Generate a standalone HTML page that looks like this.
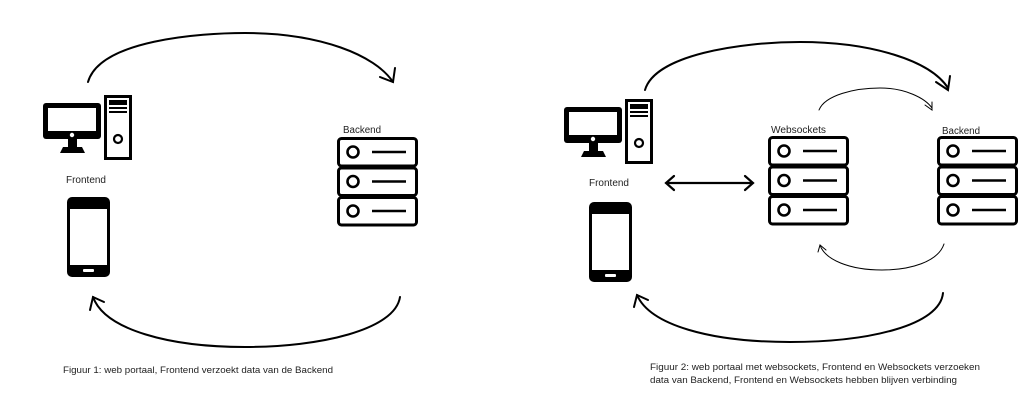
<!DOCTYPE html>
<html><head><meta charset="utf-8"><style>
html,body{margin:0;padding:0;background:#fff;}
svg{display:block;}
text{font-family:"Liberation Sans",Arial,sans-serif;fill:#222;}
</style></head><body>
<svg width="1024" height="417" viewBox="0 0 1024 417" xmlns="http://www.w3.org/2000/svg">
<defs>
<g id="pc">
  <rect x="0" y="8" width="58" height="36" rx="3" fill="#000"/>
  <rect x="5" y="13" width="48" height="23" fill="#fff"/>
  <circle cx="29" cy="40" r="2.2" fill="#fff"/>
  <rect x="25" y="44" width="9" height="9" fill="#000"/>
  <path d="M17 58 L20 52 L39 52 L42 58 Z" fill="#000"/>
  <rect x="62.5" y="1.5" width="25" height="62" fill="#fff" stroke="#000" stroke-width="3"/>
  <rect x="66" y="5" width="18" height="5" fill="#000"/>
  <rect x="66" y="12" width="18" height="2" fill="#000"/>
  <rect x="66" y="16" width="18" height="2" fill="#000"/>
  <circle cx="75" cy="44" r="4" fill="none" stroke="#000" stroke-width="2.2"/>
</g>
<g id="phone">
  <rect x="0" y="0" width="43" height="80" rx="5" fill="#000"/>
  <rect x="3" y="12" width="37" height="56" fill="#fff"/>
  <rect x="16" y="72" width="11" height="3" rx="1" fill="#fff"/>
</g>
<g id="srvrow">
  <rect x="1.5" y="1.5" width="78" height="27.5" rx="3" fill="#fff" stroke="#000" stroke-width="3"/>
  <circle cx="16" cy="15" r="5.5" fill="none" stroke="#000" stroke-width="2.6"/>
  <line x1="35" y1="15" x2="69" y2="15" stroke="#000" stroke-width="2.6"/>
</g>
<g id="server">
  <use href="#srvrow" x="0" y="0"/>
  <use href="#srvrow" x="0" y="29.5"/>
  <use href="#srvrow" x="0" y="59"/>
</g>
</defs>

<!-- Figure 1 -->
<use href="#pc" x="43" y="95"/>
<text x="66" y="183" font-size="10" textLength="40" lengthAdjust="spacingAndGlyphs">Frontend</text>
<use href="#phone" x="67" y="197"/>
<text x="343" y="133" font-size="10" textLength="38" lengthAdjust="spacingAndGlyphs">Backend</text>
<use href="#server" x="337" y="137"/>

<g fill="none" stroke="#000" stroke-width="2" stroke-linecap="round">
  <path d="M88 82 C100 40 200 33 245 33 C320 33 375 55 393 82"/>
  <path d="M380 77 L393 82 L395 68"/>
  <path d="M400 297 C395 330 320 347 245 347 C170 347 105 330 93 297"/>
  <path d="M90 310 L93 297 L104 302"/>
</g>
<text x="63" y="373" font-size="9.6" textLength="270" lengthAdjust="spacingAndGlyphs">Figuur 1: web portaal, Frontend verzoekt data van de Backend</text>

<!-- Figure 2 -->
<use href="#pc" x="564" y="99"/>
<text x="589" y="186" font-size="10" textLength="40" lengthAdjust="spacingAndGlyphs">Frontend</text>
<use href="#phone" x="589" y="202"/>
<text x="771" y="133" font-size="10" textLength="55" lengthAdjust="spacingAndGlyphs">Websockets</text>
<use href="#server" x="768" y="136"/>
<text x="942" y="134" font-size="10" textLength="38" lengthAdjust="spacingAndGlyphs">Backend</text>
<use href="#server" x="937" y="136"/>

<g fill="none" stroke="#000" stroke-linecap="round">
  <path d="M666 183 L753 183 M674 176 L666 183 L674 190 M745 176 L753 183 L745 190" stroke-width="2.2"/>
  <path d="M645 90 C655 55 740 42 800 42 C870 42 930 60 948 88" stroke-width="2"/>
  <path d="M936 82 L948 90 L950 76" stroke-width="2"/>
  <path d="M819 110 C825 95 855 88 880 88 C905 88 925 98 932 108" stroke-width="1"/>
  <path d="M925 105 L932 110 L932 102" stroke-width="1"/>
  <path d="M944 244 C938 262 910 270 882 270 C850 270 825 260 820 245" stroke-width="1"/>
  <path d="M818 252 L820 245 L826 250" stroke-width="1"/>
  <path d="M943 293 C940 325 870 342 790 342 C710 342 650 325 637 295" stroke-width="2"/>
  <path d="M634 307 L637 295 L648 300" stroke-width="2"/>
</g>
<text x="650" y="370" font-size="9.6" textLength="330" lengthAdjust="spacingAndGlyphs">Figuur 2: web portaal met websockets, Frontend en Websockets verzoeken</text>
<text x="650" y="383" font-size="9.6" textLength="307" lengthAdjust="spacingAndGlyphs">data van Backend, Frontend en Websockets hebben blijven verbinding</text>
</svg>
</body></html>
